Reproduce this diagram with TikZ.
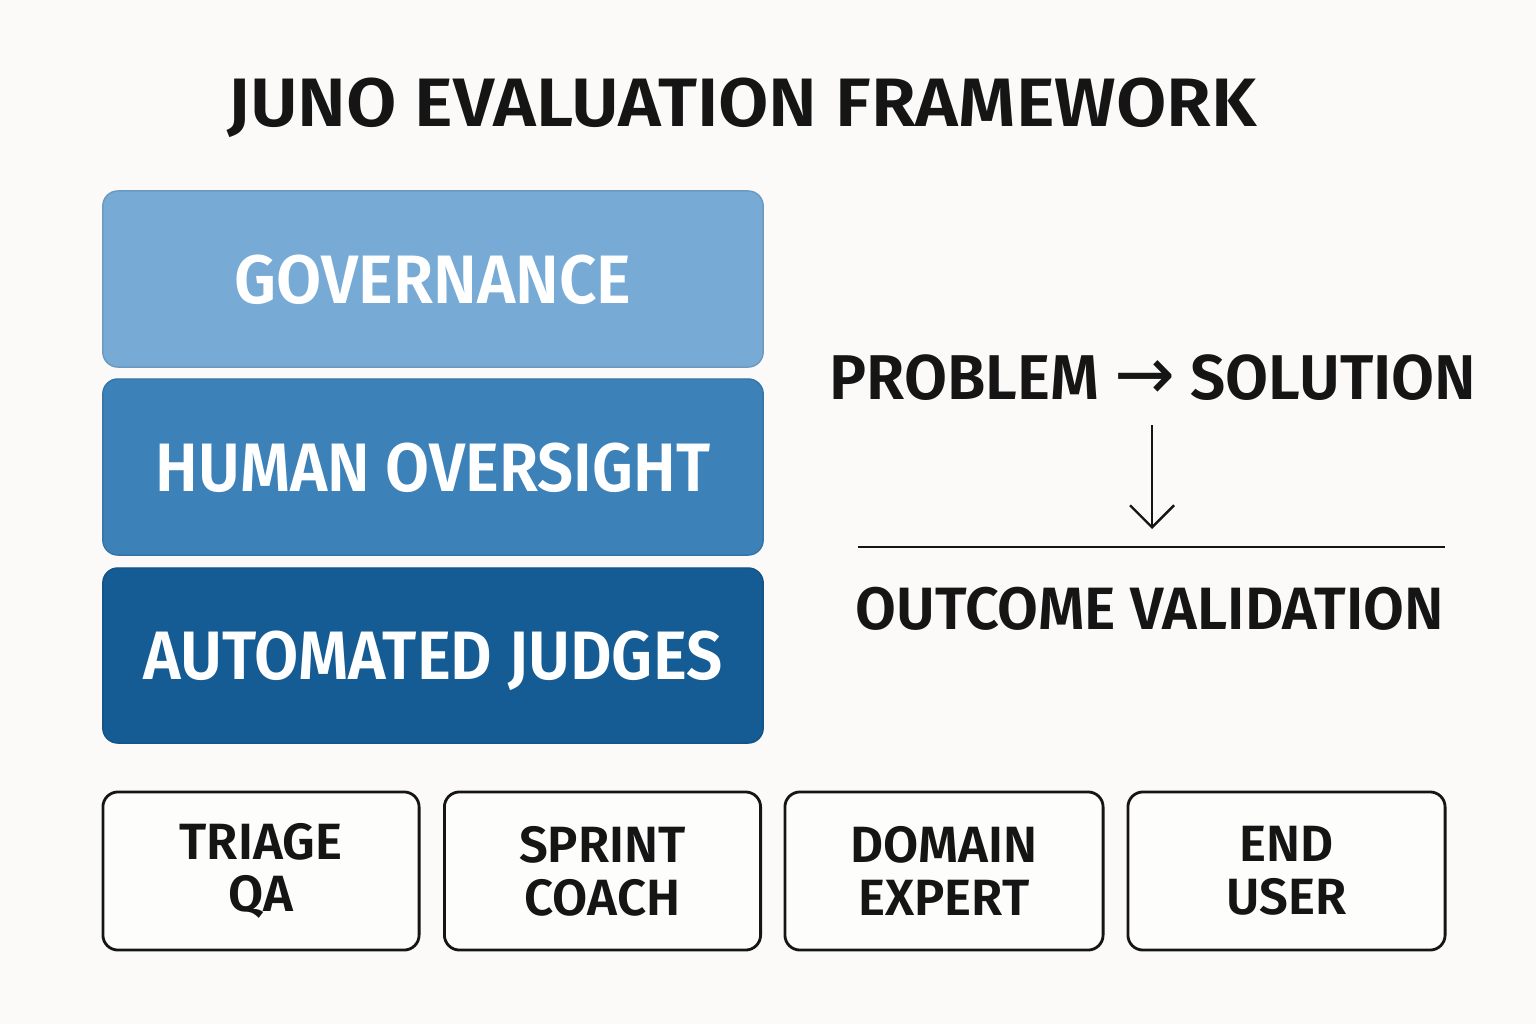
\documentclass[tikz,border=0pt]{standalone}
\usepackage{fontspec}
\setmainfont{Fira Sans}[BoldFont={Fira Sans SemiBold}]
\newfontfamily\arrowfont{DejaVu Sans}
\usetikzlibrary{arrows.meta}
\definecolor{bgc}{HTML}{FBFAF8}
\definecolor{govc}{HTML}{77AAD4}
\definecolor{humc}{HTML}{3D81B9}
\definecolor{autc}{HTML}{155C95}
\definecolor{inkc}{HTML}{151515}
\newcommand{\xs}[2]{\scalebox{#1}[1]{#2}}
\tikzset{
  layer/.style={rounded corners=0.15cm, minimum width=6.6cm, text=white,
    font=\fontsize{19.5}{24}\selectfont\bfseries, inner sep=0pt,
    text height=0.48cm, text depth=0pt},
  role/.style={draw=inkc, line width=0.8pt, rounded corners=0.15cm, fill=white!60!bgc,
    minimum width=3.16cm, minimum height=1.58cm, align=center, text=inkc,
    font=\fontsize{14.5}{15}\selectfont\bfseries, inner sep=0pt},
  plain/.style={text=inkc, inner sep=0pt, anchor=base},
  conn/.style={draw=inkc, line width=0.7pt},
}
\begin{document}
\begin{tikzpicture}[x=0.01cm,y=-0.01cm]
\fill[bgc] (0,0) rectangle (1536,1024);
\useasboundingbox (0,0) rectangle (1536,1024);

\node[plain, font=\fontsize{19.5}{24}\selectfont\bfseries] (title) at (742,126) {\xs{1.065}{JUNO EVALUATION FRAMEWORK}};

\node[layer, fill=govc, draw=govc!90!black, minimum height=1.76cm] (gov) at (433,279) {\xs{0.955}{GOVERNANCE}};
\node[layer, fill=humc, draw=humc!90!black, minimum height=1.76cm] (hum) at (433,467) {\xs{0.93}{HUMAN OVERSIGHT}};
\node[layer, fill=autc, draw=autc!90!black, minimum height=1.75cm] (aut) at (433,655.5) {\xs{0.935}{AUTOMATED JUDGES}};

\node[role] (triage) at (261,871) {TRIAGE\\QA};
\node[role] (sprint) at (602.5,871) {SPRINT\\COACH};
\node[role, minimum width=3.18cm] (domain) at (944,871) {DOMAIN\\EXPERT};
\node[role, minimum width=3.17cm] (enduser) at (1286.5,871) {END\\USER};

\node[plain, font=\fontsize{18}{22}\selectfont\bfseries] (ps) at (1153,399) {\xs{0.985}{PROBLEM {\arrowfont\mdseries\fontsize{21}{22}\selectfont →} SOLUTION}};
\coordinate (arrtop) at (1152,425);
\coordinate (arrend) at (1152,529);
\draw[conn, -{Straight Barb[length=2.2mm, width=4.4mm]}] (arrtop) -- (arrend);
\coordinate (lineL) at (858,547);
\coordinate (lineR) at (1445,547);
\draw[conn, line width=0.8pt] (lineL) -- (lineR);
\node[plain, font=\fontsize{17}{22}\selectfont\bfseries] (ov) at (1150,629) {\xs{0.99}{OUTCOME VALIDATION}};
\end{tikzpicture}
\end{document}
